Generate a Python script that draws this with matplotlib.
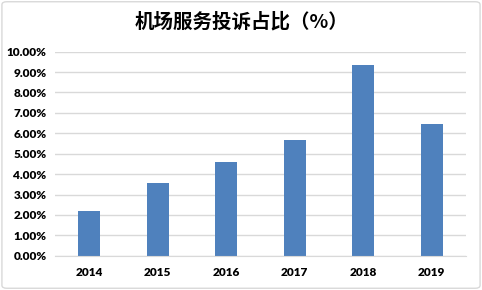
import matplotlib
matplotlib.use("Agg")
import matplotlib.pyplot as plt
from matplotlib.patches import FancyBboxPatch
from matplotlib.ticker import PercentFormatter, MultipleLocator

years = ["2014", "2015", "2016", "2017", "2018", "2019"]
shares = [2.21, 3.55, 4.61, 5.66, 9.35, 6.45]

BAR_COLOR = "#4F81BD"
GRID_COLOR = "#D9D9D9"

fig = plt.figure(figsize=(4.82, 2.9), dpi=100)
ax = fig.add_axes([0.114, 0.118, 0.853, 0.704])

ax.bar(years, shares, width=0.32, color=BAR_COLOR, zorder=2)

ax.set_ylim(0, 10)
ax.set_xlim(-0.5, len(years) - 0.5)
ax.yaxis.set_major_locator(MultipleLocator(1))
ax.yaxis.set_major_formatter(PercentFormatter(decimals=2))
ax.grid(axis="y", color=GRID_COLOR, linewidth=1, zorder=0)
for side in ["top", "right", "left"]:
    ax.spines[side].set_visible(False)
ax.spines["bottom"].set_color(GRID_COLOR)
ax.tick_params(length=0, pad=6)
for lbl in ax.get_xticklabels() + ax.get_yticklabels():
    lbl.set_fontfamily(["Lato", "DejaVu Sans"])
    lbl.set_fontweight("heavy")
    lbl.set_fontsize(8.5)
    lbl.set_color("#000000")
ax.tick_params(axis="x", pad=8)

fig.text(0.5, 0.925, "机场服务投诉占比（%）", ha="center", va="center",
         fontsize=14, fontweight="heavy",
         family=["Noto Sans CJK SC", "DejaVu Sans"], color="#000000")

# light rounded frame around the chart area
frame = FancyBboxPatch((0.004, 0.006), 0.992, 0.988, boxstyle="round,pad=0,rounding_size=0.01",
                       transform=fig.transFigure, fill=False, edgecolor=GRID_COLOR, linewidth=1)
fig.patches.append(frame)

fig.savefig("out.png", dpi=100)
